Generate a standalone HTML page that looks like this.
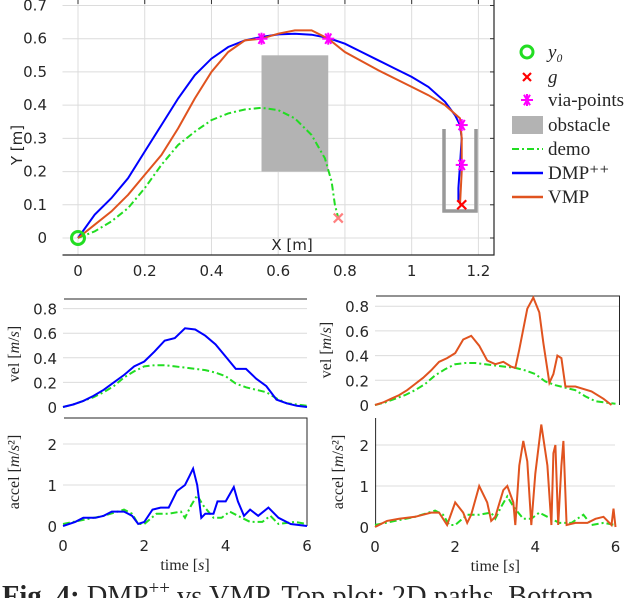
<!DOCTYPE html>
<html><head><meta charset="utf-8">
<style>
html,body{margin:0;padding:0;background:#fff;}
svg{display:block;}
.tk{font-family:"DejaVu Sans","Liberation Sans",sans-serif;font-size:15px;fill:#262626;}
.sr{font-family:"Liberation Serif","DejaVu Serif",serif;fill:#262626;}
</style></head>
<body>
<svg id="chart" width="632" height="598" viewBox="0 0 632 598" xmlns="http://www.w3.org/2000/svg"></svg>
<script>
// ---------- data: top 2D path plot ----------
const dmpX=[0,0.05,0.1,0.15,0.2,0.25,0.3,0.35,0.4,0.45,0.5,0.55,0.6,0.65,0.7,0.75,0.8,0.85,0.9,0.95,1.0,1.05,1.1,1.13,1.145,1.15,1.145,1.14,1.14];
const dmpY=[0,0.07,0.12,0.18,0.26,0.34,0.42,0.49,0.54,0.575,0.595,0.605,0.613,0.615,0.612,0.602,0.585,0.56,0.535,0.51,0.485,0.455,0.41,0.37,0.34,0.3,0.22,0.15,0.11];
const vmpX=[0,0.05,0.1,0.15,0.2,0.25,0.3,0.35,0.4,0.45,0.5,0.55,0.6,0.65,0.7,0.75,0.8,0.9,1.0,1.05,1.1,1.145,1.15,1.15,1.145];
const vmpY=[0,0.04,0.08,0.13,0.19,0.25,0.33,0.42,0.5,0.56,0.595,0.6,0.615,0.625,0.625,0.6,0.56,0.505,0.455,0.43,0.4,0.36,0.3,0.2,0.1];
const demoX=[0,0.05,0.1,0.15,0.2,0.25,0.3,0.35,0.4,0.45,0.5,0.55,0.6,0.65,0.7,0.74,0.76,0.77,0.78];
const demoY=[0,0.02,0.05,0.09,0.15,0.22,0.28,0.32,0.355,0.375,0.387,0.392,0.385,0.36,0.31,0.24,0.17,0.1,0.06];
const viaX=[0.55,0.75,1.15,1.15];
const viaY=[0.6,0.6,0.34,0.22];
const obstacle=[0.55,0.75,0.2,0.55]; // x0,x1,y0,y1
const goal=[1.15,0.1];
const demoEnd=[0.78,0.06];
const topXTicks=[0,0.2,0.4,0.6,0.8,1,1.2];
const topYTicks=[0,0.1,0.2,0.3,0.4,0.5,0.6,0.7];
// ---------- data: velocity / acceleration ----------
const velT=[0,0.25,0.5,0.75,1,1.25,1.5,1.75,2,2.25,2.5,2.75,3,3.25,3.5,3.75,4,4.25,4.5,4.75,5,5.25,5.5,5.75,6];
const velDmp=[0,0.02,0.05,0.09,0.14,0.2,0.26,0.33,0.37,0.45,0.54,0.56,0.64,0.63,0.58,0.51,0.41,0.31,0.31,0.23,0.17,0.06,0.03,0.01,0];
const velDemo=[0,0.02,0.05,0.08,0.12,0.17,0.24,0.29,0.33,0.34,0.34,0.33,0.32,0.31,0.3,0.28,0.25,0.19,0.16,0.14,0.12,0.07,0.03,0.02,0.01];
const velVmpT=[0,0.2,0.4,0.6,0.8,1.0,1.2,1.4,1.6,1.8,2.0,2.2,2.4,2.6,2.8,3.0,3.2,3.4,3.5,3.6,3.8,3.95,4.1,4.2,4.35,4.45,4.55,4.65,4.75,5,5.4,5.7,5.9];
const velVmp=[0,0.02,0.05,0.08,0.12,0.17,0.22,0.28,0.35,0.38,0.42,0.53,0.56,0.48,0.36,0.33,0.35,0.31,0.3,0.45,0.78,0.87,0.75,0.5,0.18,0.25,0.4,0.38,0.15,0.15,0.11,0.05,0];
const accT=[0,0.3,0.5,0.8,1,1.2,1.5,1.7,1.85,2,2.2,2.4,2.6,2.8,3,3.1,3.2,3.3,3.4,3.5,3.7,3.8,4,4.2,4.3,4.45,4.6,4.8,5.05,5.3,5.6,6];
const accDmp=[0,0.1,0.2,0.2,0.25,0.35,0.35,0.25,0.05,0.1,0.4,0.45,0.45,0.85,1.0,1.2,1.4,1.0,0.2,0.3,0.3,0.6,0.6,0.95,0.6,0.25,0.4,0.25,0.45,0.2,0.05,0];
const accDemoT=[0,0.5,1,1.5,1.7,1.85,2,2.3,2.6,2.9,3.0,3.15,3.3,3.45,3.7,3.9,4.1,4.3,4.6,4.9,5.1,5.3,5.7,6];
const accDemo=[0.05,0.15,0.25,0.4,0.3,0.05,0.05,0.3,0.3,0.35,0.2,0.5,0.75,0.5,0.2,0.2,0.35,0.25,0.1,0.1,0.25,0.05,0.1,0.05];
const accVmpT=[0,0.3,0.6,1,1.4,1.6,1.8,2,2.2,2.3,2.4,2.6,2.8,2.9,3.0,3.2,3.3,3.45,3.5,3.6,3.7,3.8,3.9,4.0,4.15,4.3,4.4,4.45,4.5,4.57,4.65,4.7,4.78,5,5.3,5.5,5.7,5.9,5.95,6];
const accVmp=[0,0.15,0.2,0.25,0.35,0.35,0.05,0.6,0.35,0.1,0.3,1.0,0.6,0.15,0.25,0.9,1.0,0.6,0.05,1.5,2.1,1.6,0.05,1.3,2.5,1.5,0.05,1.8,2.0,0.05,1.5,2.1,0.05,0.1,0.1,0.2,0.25,0.05,0.45,0];
const accDemo2T=[0,0.5,1,1.5,1.7,1.85,2,2.3,2.6,2.9,3.0,3.15,3.3,3.45,3.7,3.9,4.1,4.3,4.6,4.9,5.2,5.4,5.7,6];
const accDemo2=[0.05,0.15,0.25,0.4,0.3,0.05,0.05,0.3,0.3,0.35,0.2,0.5,0.75,0.5,0.2,0.2,0.35,0.25,0.1,0.1,0.3,0.05,0.1,0.05];
const tTicks=[0,2,4,6];
const velTicks=[0,0.2,0.4,0.6,0.8];
const accTicks=[0,1,2];

const NS="http://www.w3.org/2000/svg";
const svg=document.getElementById('chart');
function el(tag,attrs,parent){const e=document.createElementNS(NS,tag);for(const k in attrs)e.setAttribute(k,attrs[k]);(parent||svg).appendChild(e);return e;}
function lin(d0,d1,r0,r1){return v=>r0+(v-d0)*(r1-r0)/(d1-d0);}
function pts(xs,ys,sx,sy){return xs.map((x,i)=>sx(x).toFixed(1)+','+sy(ys[i]).toFixed(1)).join(' ');}

// ---------- top plot ----------
const tx=lin(0,1.2,78,478.4), ty=lin(0,0.6,238,38.7);
const gTop=el('g',{});


topXTicks.forEach(v=>{
  const l=el('line',{x1:tx(v),x2:tx(v),y1:0,y2:255,stroke:'#dcdcdc','stroke-width':1},gTop);
  
  el('line',{x1:tx(v),x2:tx(v),y1:0,y2:4,stroke:'#333'},gTop);
  const t=el('text',{x:tx(v),y:276,'text-anchor':'middle',class:'tk','font-size':'16'},gTop);t.textContent=String(v);
  
});
topYTicks.forEach(v=>{
  const l=el('line',{x1:62.5,x2:494,y1:ty(v),y2:ty(v),stroke:'#dcdcdc','stroke-width':1},gTop);
  
  el('line',{x1:490,x2:494,y1:ty(v),y2:ty(v),stroke:'#333'},gTop);
  const t=el('text',{x:47,y:ty(v)+5,'text-anchor':'end',class:'tk','font-size':'16'},gTop);t.textContent=String(v);
  
});
let ax=el('path',{d:'M62.5,255 H494 V0',fill:'none',stroke:'#262626','stroke-width':1.2},gTop);

let yl=el('text',{x:0,y:0,transform:'translate(22,145) rotate(-90)','text-anchor':'middle',class:'tk','font-size':'16'},gTop);
yl.textContent='Y [m]';
let xl=el('text',{x:292,y:250,'text-anchor':'middle',class:'tk','font-size':'16'},gTop);
xl.textContent='X [m]';
let ob=el('rect',{x:tx(obstacle[0]),y:ty(obstacle[3]),width:tx(obstacle[1])-tx(obstacle[0]),height:ty(obstacle[2])-ty(obstacle[3]),fill:'#b3b3b3'},gTop);

let cup=el('path',{d:'M444,129 V211 H476 V129',fill:'none',stroke:'#999','stroke-width':3.5},gTop);

let dm=el('polyline',{points:pts(demoX,demoY,tx,ty),fill:'none',stroke:'#22dd22','stroke-width':2,'stroke-dasharray':'7,3,2,3'},gTop);

let dp=el('polyline',{points:pts(dmpX,dmpY,tx,ty),fill:'none',stroke:'#0000ff','stroke-width':2},gTop);

let vp=el('polyline',{points:pts(vmpX,vmpY,tx,ty),fill:'none',stroke:'#e0531f','stroke-width':2},gTop);

function star(cx,cy,r,c,p){const g=el('g',{stroke:c,'stroke-width':2},p);[0,60,120].forEach(a=>{const dx=r*Math.cos(a*Math.PI/180),dy=r*Math.sin(a*Math.PI/180);el('line',{x1:cx-dx,y1:cy-dy,x2:cx+dx,y2:cy+dy},g);});el('line',{x1:cx,y1:cy-r,x2:cx,y2:cy+r},g);return g;}
function cross(cx,cy,r,c,p){const g=el('g',{stroke:c,'stroke-width':2.2},p);el('line',{x1:cx-r,y1:cy-r,x2:cx+r,y2:cy+r},g);el('line',{x1:cx-r,y1:cy+r,x2:cx+r,y2:cy-r},g);return g;}
viaX.forEach((x,i)=>{const s=star(tx(x),ty(viaY[i]),6,'#ff00ff',gTop);});
let gg=cross(tx(goal[0]),ty(goal[1]),4.5,'#ff0000',gTop);
let de=cross(tx(demoEnd[0]),ty(demoEnd[1]),4.5,'#ff8080',gTop);
let y0=el('circle',{cx:tx(0),cy:ty(0),r:6.5,fill:'none',stroke:'#22dd22','stroke-width':3},gTop);


// legend
const lg=el('g',{});

const ly=[52,77,100,125,149,173,197];
el('circle',{cx:527,cy:ly[0],r:6,fill:'none',stroke:'#22dd22','stroke-width':3},lg);
cross(527,ly[1],4,'#ff0000',lg);star(527,ly[2],6,'#ff00ff',lg);
el('rect',{x:512,y:ly[3]-9,width:31,height:18,fill:'#b3b3b3'},lg);
el('line',{x1:512,x2:543,y1:ly[4],y2:ly[4],stroke:'#22dd22','stroke-width':2,'stroke-dasharray':'7,3,2,3'},lg);
el('line',{x1:512,x2:543,y1:ly[5],y2:ly[5],stroke:'#0000ff','stroke-width':2.5},lg);
el('line',{x1:512,x2:543,y1:ly[6],y2:ly[6],stroke:'#e0531f','stroke-width':2.5},lg);
const labs=['y\u2080','g','via-points','obstacle','demo','DMP\u207A\u207A','VMP'];
labs.forEach((s,i)=>{const t=el('text',{x:548,y:ly[i]+6,class:'sr','font-size':'19','font-style':(i<2?'italic':'normal')},lg);t.textContent=s;});

// ---------- small plots ----------
function panel(name,x0,x1,y0px,perUnit,ticks,label,series,frame,tickLabels){
  const g=el('g',{});
  
  const sx=lin(0,6,x0,x1), sy=v=>y0px-v*perUnit;
  ticks.forEach(v=>{
    if(v>0){const l=el('line',{x1:x0,x2:frame.right,y1:sy(v),y2:sy(v),stroke:'#dcdcdc'},g);}
    const t=el('text',{x:x0-6,y:sy(v)+6,'text-anchor':'end',class:'tk','font-size':'17'},g);t.textContent=String(v);
    
  });
  el('path',{d:frame.d,fill:'none',stroke:'#262626','stroke-width':1},g);
  series.forEach(s=>{const p=el('polyline',{points:pts(s.t,s.v,sx,sy),fill:'none',stroke:s.c,'stroke-width':2,'stroke-dasharray':s.dash||'none'},g);});
  const lb=el('text',{x:0,y:0,transform:`translate(${label.x},${label.y}) rotate(-90)`,'text-anchor':'middle',class:'sr','font-size':'16'},g);
  lb.innerHTML=label.html;
  if(tickLabels){tTicks.forEach(v=>{const t=el('text',{x:sx(v),y:y0px+25,'text-anchor':'middle',class:'tk','font-size':'17'},g);t.textContent=String(v);});
    const tt=el('text',{x:(x0+x1)/2,y:y0px+44,'text-anchor':'middle',class:'sr','font-size':'16'},g);tt.innerHTML='time [<tspan font-style="italic">s</tspan>]';}
}
const DASH='7,3,2,3';
const velLab='vel [<tspan font-style="italic">m</tspan>/<tspan font-style="italic">s</tspan>]';
const accLab='accel [<tspan font-style="italic">m</tspan>/<tspan font-style="italic">s</tspan>²]';
panel('dmp-velocity-plot',63,307,407,123,velTicks,{x:19,y:354,html:velLab},
  [{t:velT,v:velDemo,c:'#22dd22',dash:DASH,n:'demo-velocity'},{t:velT,v:velDmp,c:'#0000ff',n:'dmp-velocity'}],
  {right:307,d:'M64,299 H307'},false);
panel('dmp-accel-plot',63,307,526,41,accTicks,{x:19,y:472,html:accLab},
  [{t:accDemoT,v:accDemo,c:'#22dd22',dash:DASH,n:'demo-accel'},{t:accT,v:accDmp,c:'#0000ff',n:'dmp-accel'}],
  {right:307,d:'M64,418 H307 V526'},true);
panel('vmp-velocity-plot',375,615.5,405,123.5,velTicks,{x:331,y:350,html:velLab},
  [{t:velT,v:velDemo,c:'#22dd22',dash:DASH,n:'demo-velocity'},{t:velVmpT,v:velVmp,c:'#e0531f',n:'vmp-velocity'}],
  {right:619,d:'M376,296 H619.5 V405'},false);
panel('vmp-accel-plot',375,615.5,527,41,accTicks,{x:343,y:472,html:accLab},
  [{t:accDemo2T,v:accDemo2,c:'#22dd22',dash:DASH,n:'demo-accel'},{t:accVmpT,v:accVmp,c:'#e0531f',n:'vmp-accel'}],
  {right:615,d:'M375.6,418 V527'},true);

// caption
const cap=el('text',{x:2,y:605,class:'sr','font-size':'28.5',fill:'#111'});
cap.innerHTML='<tspan font-weight="bold">Fig. 4:</tspan> DMP<tspan dy="-11" font-size="19">++</tspan><tspan dy="11"> vs VMP. Top plot: 2D paths. Bottom</tspan>';


</script>
</body></html>
